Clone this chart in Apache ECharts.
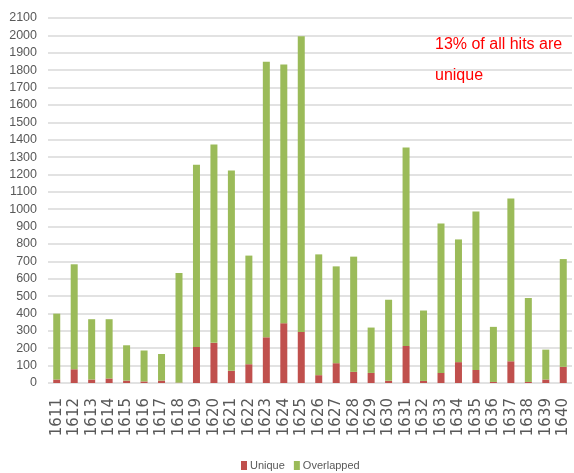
<!DOCTYPE html>
<html>
<head>
<meta charset="utf-8">
<script src="https://cdn.jsdelivr.net/npm/echarts@6/dist/echarts.min.js"></script>
<style>
    html, body { margin: 0; padding: 0; background: #fff; }
</style>
</head>
<body>
<div id="hitsChart" style="width: 574px; height: 473px;"></div>
<script>
    // categories (x axis)
    var categories = ['1611', '1612', '1613', '1614', '1615', '1616', '1617', '1618', '1619', '1620',
        '1621', '1622', '1623', '1624', '1625', '1626', '1627', '1628', '1629', '1630',
        '1631', '1632', '1633', '1634', '1635', '1636', '1637', '1638', '1639', '1640'];
    // unique hits (red, bottom of stack)
    var uniqueHits = [20, 79, 20, 26, 14, 9, 14, 2, 207, 231,
        70, 108, 263, 344, 294, 45, 114, 64, 58, 13,
        213, 12, 58, 120, 75, 6, 125, 6, 20, 93];
    // total hits
    var totalHits = [399, 683, 367, 367, 217, 187, 167, 633, 1256, 1372,
        1223, 733, 1849, 1832, 1995, 740, 671, 727, 319, 479,
        1355, 417, 918, 826, 987, 323, 1062, 489, 192, 713];
    // overlapped = total - unique
    var overlappedHits = totalHits.map(function (t, i) { return t - uniqueHits[i]; });

    var seriesNames = ['Unique', 'Overlapped'];
    var noteText = '13% of all hits are\nunique';

    var textFont = '"Liberation Sans", sans-serif';

    var myChart = echarts.init(document.getElementById('hitsChart'));
    myChart.setOption({
        animation: false,
        grid: {left: 48, top: 18, width: 524, height: 365},
        legend: {
            data: seriesNames,
            left: 236,
            top: 455,
            itemWidth: 6,
            itemHeight: 9,
            itemGap: 9,
            icon: 'rect',
            textStyle: {color: '#595959', fontSize: 11, fontFamily: textFont, padding: [0, 0, 0, -2]}
        },
        xAxis: {
            type: 'category',
            data: categories,
            axisTick: {show: false},
            axisLine: {show: false},
            axisLabel: {
                interval: 0,
                rotate: 90,
                margin: 15,
                color: '#595959',
                fontSize: 15,
                fontFamily: '"DejaVu Sans", sans-serif'
            }
        },
        yAxis: {
            type: 'value',
            min: 0,
            max: 2100,
            interval: 100,
            axisLine: {show: false},
            axisTick: {show: false},
            axisLabel: {
                color: '#595959',
                fontSize: 12.5,
                fontFamily: textFont,
                margin: 11,
                formatter: function (v) { return String(v); }
            },
            splitLine: {lineStyle: {color: '#D9D9D9', width: 1.5}}
        },
        graphic: [{
            type: 'text',
            left: 435,
            top: 29,
            style: {
                text: noteText,
                fill: '#FF0000',
                font: '16px ' + textFont,
                lineHeight: 31
            }
        }],
        series: [
            {
                name: seriesNames[0],
                type: 'bar',
                stack: 'hits',
                barWidth: 7,
                itemStyle: {color: '#C0504D'},
                data: uniqueHits
            },
            {
                name: seriesNames[1],
                type: 'bar',
                stack: 'hits',
                barWidth: 7,
                itemStyle: {color: '#9BBB59'},
                data: overlappedHits
            }
        ]
    });
</script>
</body>
</html>
